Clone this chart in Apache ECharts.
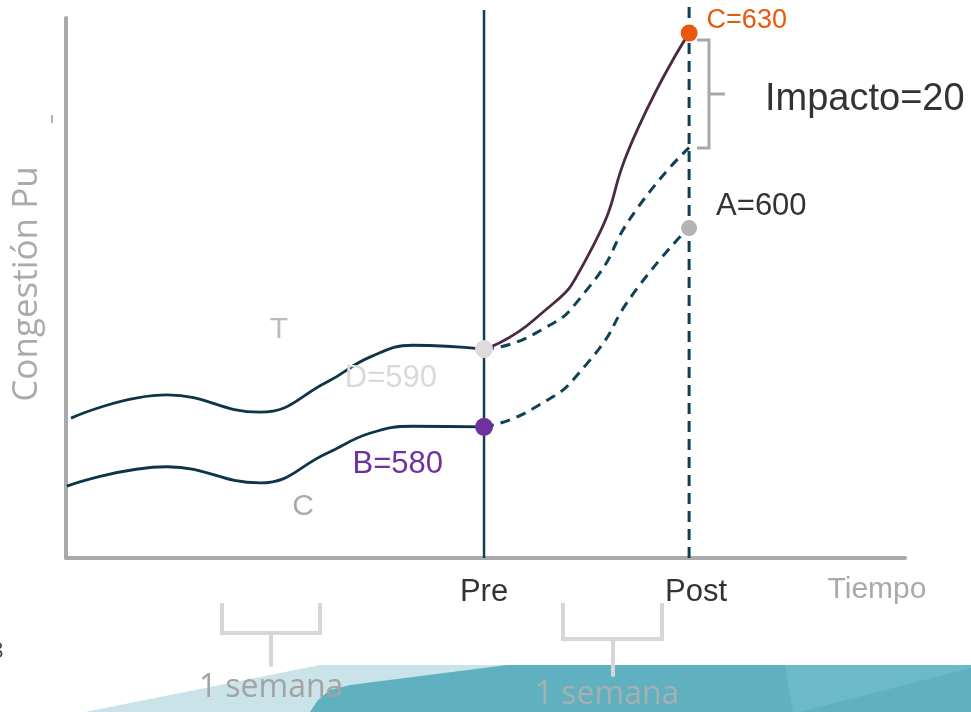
<!DOCTYPE html>
<html>
<head>
<meta charset="utf-8">
<script src="https://cdn.jsdelivr.net/npm/echarts@6/dist/echarts.min.js"></script>
<style>html,body{margin:0;padding:0;background:#fff;}#c{width:971px;height:712px;}</style>
</head>
<body>
<div id="c"></div>
<script>
// ---- data (x: days, Pre = day 14, Post = day 21; y: schematic congestion level) ----
const tickDays = [14, 21];
const tickLabels = ['Pre', 'Post'];
const treatPre = [[-0.1,25.9],[3.18,30.2],[6.35,27.0],[8.64,32.6],[10.1,37.2],[11.57,39.4],[14,38.7]];
const ctrlPre = [[-0.24,13.3],[3.18,16.9],[6.35,13.9],[8.64,19.4],[10.1,23.1],[11.57,24.4],[14,24.3]];
const treatPost = [[14,38.7],[15.75,44.3],[17.5,55.5],[19.25,79.5],[21,97.2]];
const treatCounterfactual = [[14,38.7],[15.75,41.6],[17.5,49.6],[19.25,64.9],[21,76.0]];
const ctrlPost = [[14,24.3],[15.75,27.9],[17.5,35.9],[19.25,50.1],[21,61.2]];
const preLine = [[14,0],[14,101.5]];
const postLine = [[21,0],[21,103.4]];
const keyPoints = [[14,38.7],[14,24.3],[21,61.1],[21,97.2]];
const keyLabels = ['D=590','B=580','A=600','C=630'];

const NAVY = '#0e3447';
const chart = echarts.init(document.getElementById('c'), null, {renderer:'canvas'});
const lineBase = {type:'line', smooth:0.45, symbol:'none', silent:true};

const pointStyles = [
  {color:'#dcdcdc', size:18, label:{position:'left', distance:38, offset:[0,29], color:'#d9d9d9'}},
  {color:'#7030a0', size:18, label:{position:'left', distance:32, offset:[0,38], color:'#7030a0'}},
  {color:'#b3b3b3', size:16, label:{position:'right', distance:19, offset:[0,-22], color:'#333333'}},
  {color:'#e8590c', size:17, label:{position:'right', distance:9, offset:[0,-13], color:'#e8590c', fontSize:27}}
];

const option = {
  animation:false,
  backgroundColor:'#ffffff',
  grid:{left:66, right:66, top:18, bottom:154},
  xAxis:{
    type:'value', min:-0.27, max:28.37,
    axisLine:{show:true, onZero:false, lineStyle:{color:'#a9a9a9', width:4}},
    axisTick:{show:false},
    splitLine:{show:false},
    axisLabel:{
      customValues:tickDays,
      formatter:function(v){ const i = tickDays.indexOf(v); return i === 1 ? '{p|' + tickLabels[i] + '}' : tickLabels[i]; },
      color:'#333333', fontSize:31, fontFamily:'Liberation Sans', margin:19,
      rich:{p:{color:'#333333', fontSize:31, fontFamily:'Liberation Sans', padding:[0,0,0,14]}}
    }
  },
  yAxis:{
    type:'value', min:0, max:100,
    axisLine:{show:true, onZero:false, lineStyle:{color:'#a9a9a9', width:4}},
    axisTick:{show:false}, axisLabel:{show:false}, splitLine:{show:false}
  },
  series:[
    Object.assign({}, lineBase, {data:preLine, smooth:false, clip:false, lineStyle:{color:'#0f3f57', width:2.5}, z:1}),
    Object.assign({}, lineBase, {data:postLine, smooth:false, clip:false, lineStyle:{color:'#0f3f57', width:3, type:[11,7]}, z:1}),
    Object.assign({}, lineBase, {data:treatPre, lineStyle:{color:NAVY, width:2.8}}),
    Object.assign({}, lineBase, {data:ctrlPre, lineStyle:{color:NAVY, width:2.8}}),
    Object.assign({}, lineBase, {data:treatPost, smooth:0.6, lineStyle:{color:'#4a2a44', width:2.8}}),
    Object.assign({}, lineBase, {data:treatCounterfactual, smooth:0.6, lineStyle:{color:'#0f4257', width:3, type:[10,7]}}),
    Object.assign({}, lineBase, {data:ctrlPost, smooth:0.6, lineStyle:{color:'#0f4257', width:3, type:[10,7]}}),
    {
      type:'scatter', z:5, silent:true, clip:false,
      data: keyPoints.map(function(p,i){
        const s = pointStyles[i];
        return {
          value:p, symbolSize:s.size, itemStyle:{color:s.color, opacity:1},
          label:Object.assign({show:true, formatter:keyLabels[i], fontSize:31, fontFamily:'Liberation Sans'}, s.label)
        };
      })
    }
  ],
  graphic:[
    // decorative footer bands
    {type:'polygon', z:-10, shape:{points:[[85,712],[320,665],[971,665],[971,712]]}, style:{fill:'#c9e3e9'}},
    {type:'polygon', z:-9, shape:{points:[[310,712],[318,700],[330,690],[350,685],[507,665],[971,665],[971,712]]}, style:{fill:'#5fb1c0'}},
    {type:'polygon', z:-8, shape:{points:[[785,665],[971,665],[971,668],[800,712],[793,712]]}, style:{fill:'#6cbac7'}},
    // axis name texts
    {type:'text', x:27, y:284, rotation:Math.PI/2, style:{text:'Congestión Pu', fill:'#aaaaaa', font:'35px "Open Sans"', align:'center', verticalAlign:'middle'}},
    {type:'text', x:877, y:590, style:{text:'Tiempo', fill:'#aaaaaa', font:'30px "Liberation Sans"', align:'center', verticalAlign:'middle'}},
    {type:'text', x:279, y:330, style:{text:'T', fill:'#bbbbbb', font:'30px "Liberation Sans"', align:'center', verticalAlign:'middle'}},
    {type:'text', x:303, y:507, style:{text:'C', fill:'#aaaaaa', font:'30px "Liberation Sans"', align:'center', verticalAlign:'middle'}},
    {type:'text', x:765, y:100, style:{text:'Impacto=20', fill:'#333333', font:'38px "Liberation Sans"', align:'left', verticalAlign:'middle'}},
    // impact brace
    {type:'polyline', shape:{points:[[697,40],[709,40],[709,148],[697,148]]}, style:{stroke:'#a8a8a8', lineWidth:3, fill:null}},
    {type:'line', shape:{x1:709, y1:94, x2:725, y2:94}, style:{stroke:'#a8a8a8', lineWidth:3}},
    // small mark
    {type:'line', shape:{x1:52, y1:115, x2:52, y2:123}, style:{stroke:'#999999', lineWidth:1.5}},
    // week brackets
    {type:'polyline', shape:{points:[[222,603],[222,633],[320,633],[320,603]]}, style:{stroke:'#d6d6d6', lineWidth:4, fill:null}},
    {type:'line', shape:{x1:271, y1:633, x2:271, y2:665}, style:{stroke:'#d6d6d6', lineWidth:4, lineCap:'round'}},
    {type:'polyline', shape:{points:[[563,603],[563,639],[662,639],[662,603]]}, style:{stroke:'#d6d6d6', lineWidth:4, fill:null}},
    {type:'line', shape:{x1:613, y1:639, x2:613, y2:675}, style:{stroke:'#d6d6d6', lineWidth:4, lineCap:'round'}},
    {type:'text', z:5, x:271, y:688, style:{text:'1 semana', fill:'#a3a3a3', font:'32px "Open Sans"', align:'center', verticalAlign:'middle'}},
    {type:'text', z:5, x:607, y:695, style:{text:'1 semana', fill:'#a6afb2', font:'32px "Open Sans"', align:'center', verticalAlign:'middle'}},
    {type:'text', x:-9, y:652, style:{text:'8', fill:'#444444', font:'22px "Open Sans"', align:'left', verticalAlign:'middle'}}
  ]
};
chart.setOption(option);
</script>
</body>
</html>
